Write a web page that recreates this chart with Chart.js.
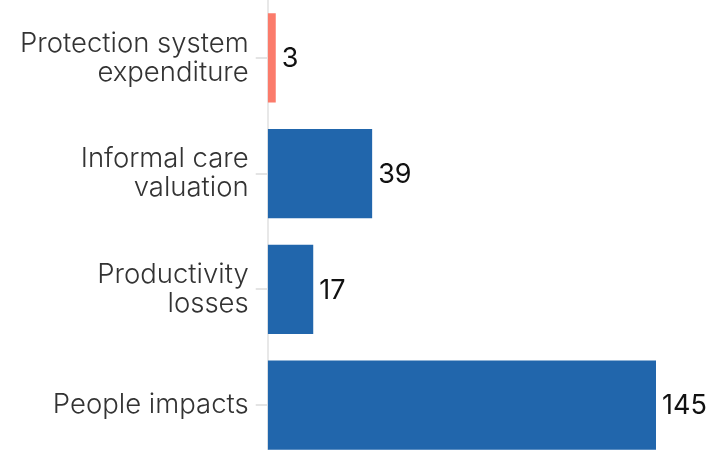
<!DOCTYPE html>
<html>
<head>
<meta charset="utf-8">
<script src="https://cdn.jsdelivr.net/npm/chart.js@4"></script>
<style>
  html, body { margin: 0; padding: 0; background: #fff; overflow: hidden; }
  #wrap { width: 712px; height: 450px; overflow: hidden; position: relative; }
  #wrap div { position: absolute; left: 0; top: 0; width: 712px; height: 463px; }
</style>
</head>
<body>
<div id="wrap"><div><canvas id="costChart"></canvas></div></div>
<script>
// cost categories and their values
const CATEGORIES = [
    ['Protection system', 'expenditure'],
    ['Informal care', 'valuation'],
    ['Productivity', 'losses'],
    'People impacts'
];
const VALUES = [3, 39, 17, 145];
const BAR_COLORS = ['#fb7b6b', '#2166ac', '#2166ac', '#2166ac'];

const FONT = 'Inter, "Liberation Sans", Arial, sans-serif';

// write each value just past the end of its bar
const valueLabels = {
    id: 'valueLabels',
    afterDatasetsDraw(chart) {
        const ctx = chart.ctx;
        const meta = chart.getDatasetMeta(0);
        ctx.save();
        ctx.font = '400 27px ' + FONT;
        ctx.fillStyle = '#111';
        ctx.textAlign = 'left';
        ctx.textBaseline = 'middle';
        meta.data.forEach((bar, i) => {
            ctx.fillText(String(VALUES[i]), bar.x + 6, bar.y + 1);
        });
        ctx.restore();
    }
};

var ctx = document.getElementById('costChart');
var myChart = new Chart(ctx, {
    type: 'bar',
    data: {
        labels: CATEGORIES,
        datasets: [{
            data: VALUES,
            backgroundColor: BAR_COLORS,
            borderWidth: 0,
            barPercentage: 0.77,
            categoryPercentage: 1
        }]
    },
    options: {
        indexAxis: 'y',
        responsive: true,
        maintainAspectRatio: false,
        animation: false,
        layout: { padding: { left: 13, right: 56, top: 0, bottom: 0 } },
        plugins: {
            legend: { display: false },
            tooltip: { enabled: false }
        },
        scales: {
            x: {
                display: false,
                min: 0,
                max: 145
            },
            y: {
                // no extra room above/below for the two-line labels
                afterFit(scale) {
                    scale.paddingTop = 0;
                    scale.paddingBottom = 0;
                },
                grid: {
                    offset: false,
                    drawOnChartArea: false,
                    tickLength: 12,
                    color: '#e4e4e4',
                    lineWidth: 2
                },
                border: { color: '#e8e8e8', width: 2 },
                ticks: {
                    padding: 7,
                    color: '#333',
                    font: { family: FONT, size: 27.5, weight: '300', lineHeight: 1.06 }
                }
            }
        }
    },
    plugins: [valueLabels]
});
</script>
</body>
</html>
